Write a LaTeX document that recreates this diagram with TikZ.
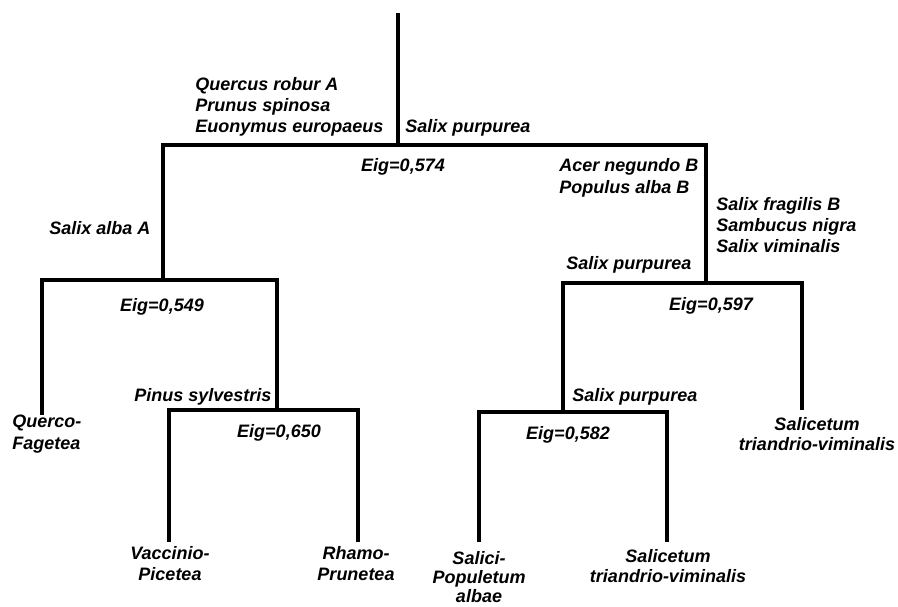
\documentclass[tikz,border=0pt]{standalone}
\usepackage{fontspec}
\setmainfont{Liberation Sans}
\begin{document}
\begin{tikzpicture}[x=0.75pt,y=-0.75pt,
  branch/.style={line width=2.3pt,line join=miter,line cap=rect},
  lab/.style={inner sep=0pt,font=\fontsize{13.5}{15.75}\selectfont\bfseries\itshape},
  lableft/.style={lab,anchor=west,align=left},
  leaf/.style={lab,align=center,font=\fontsize{13.5}{15.5}\selectfont\bfseries\itshape}]
\useasboundingbox (0,0) rectangle (898,606);
% junction coordinates
\coordinate (top) at (398,15);
\coordinate (n0) at (398,145);
\coordinate (nL) at (163,145);
\coordinate (nR) at (706,145);
\coordinate (nLb) at (163,280);
\coordinate (nLL) at (42,280);
\coordinate (nLR) at (277,280);
\coordinate (qf) at (42,413);
\coordinate (nP) at (277,410);
\coordinate (nPL) at (169,410);
\coordinate (nPR) at (358,410);
\coordinate (vp) at (169,540);
\coordinate (rp) at (358,540);
\coordinate (nRb) at (706,283);
\coordinate (nRL) at (563,283);
\coordinate (nRR) at (802,283);
\coordinate (stv1) at (802,408);
\coordinate (nS) at (563,412);
\coordinate (nSL) at (479,412);
\coordinate (nSR) at (667,412);
\coordinate (spa) at (479,540);
\coordinate (stv2) at (667,540);
% branches
\draw[branch] (top) -- (n0);
\draw[branch] (nLb) -- (nL) -- (nR) -- (nRb);
\draw[branch] (qf) -- (nLL) -- (nLR) -- (nP);
\draw[branch] (vp) -- (nPL) -- (nPR) -- (rp);
\draw[branch] (nS) -- (nRL) -- (nRR) -- (stv1);
\draw[branch] (spa) -- (nSL) -- (nSR) -- (stv2);
% labels
\node[lableft] (t1) at (195,107) {Quercus robur A\\Prunus spinosa\\Euonymus europaeus};
\node[lableft] (t2) at (405,128) {Salix purpurea};
\node[lab] (e1) at (403,167) {Eig=0,574};
\node[lableft,font=\fontsize{13.5}{16.5}\selectfont\bfseries\itshape] (t3) at (559,178) {Acer negundo B\\Populus alba B};
\node[lableft] (t4) at (716,225) {Salix fragilis B\\Sambucus nigra\\Salix viminalis};
\node[lableft] (t5) at (566,265) {Salix purpurea};
\node[lab] (e2) at (711,306) {Eig=0,597};
\node[lableft] (t6) at (49,228) {Salix alba A};
\node[lab] (e3) at (162,307) {Eig=0,549};
\node[lableft] (t7) at (134,397) {Pinus sylvestris};
\node[lab] (e4) at (279,433) {Eig=0,650};
\node[lableft] (t8) at (572,397) {Salix purpurea};
\node[lab] (e5) at (568,435) {Eig=0,582};
\node[lableft,font=\fontsize{13.5}{16.5}\selectfont\bfseries\itshape] (l1) at (12,434) {Querco-\\Fagetea};
\node[leaf] (l2) at (170,563.5) {Vaccinio-\\Picetea};
\node[leaf] (l3) at (356,563.5) {Rhamo-\\Prunetea};
\node[leaf,font=\fontsize{13.5}{14.3}\selectfont\bfseries\itshape] (l4) at (479,577) {Salici-\\Populetum\\albae};
\node[leaf] (l5) at (668,566) {Salicetum\\triandrio-viminalis};
\node[leaf] (l6) at (817,434) {Salicetum\\triandrio-viminalis};
\end{tikzpicture}
\end{document}
